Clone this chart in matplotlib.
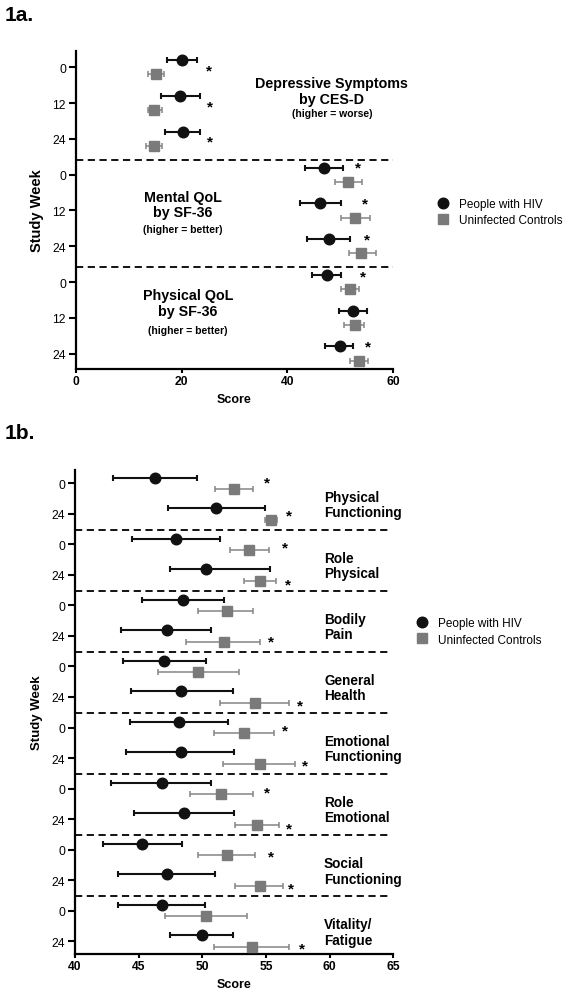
import matplotlib
matplotlib.use('Agg')
import matplotlib.pyplot as plt
import numpy as np
from matplotlib.lines import Line2D

plt.rcParams['font.family'] = ['Liberation Sans', 'DejaVu Sans']

# ---- panel 1a data ----
weeks_a = ['0', '12', '24']
groups_a = ['Depressive Symptoms\nby CES-D', 'Mental QoL\nby SF-36', 'Physical QoL\nby SF-36']
notes_a = ['(higher = worse)', '(higher = better)', '(higher = better)']
hiv_a = [20.1, 19.8, 20.2, 46.9, 46.1, 47.8, 47.4, 52.5, 49.9]
hiv_a_lo = [17.2, 16.1, 16.9, 43.3, 42.3, 43.8, 44.7, 49.8, 47.2]
hiv_a_hi = [23.0, 23.4, 23.5, 50.6, 50.2, 51.8, 50.1, 55.1, 52.5]
ctl_a = [15.2, 14.8, 14.8, 51.5, 52.8, 54.0, 51.8, 52.8, 53.6]
ctl_a_lo = [13.7, 13.6, 13.3, 49.0, 50.1, 51.6, 50.1, 50.8, 51.8]
ctl_a_hi = [16.7, 16.3, 16.3, 54.2, 55.7, 56.7, 53.5, 54.5, 55.3]
star_a_row = [0, 1, 2, 3, 4, 5, 6, 8]
star_a_x = [25.2, 25.4, 25.3, 53.3, 54.6, 55.1, 54.2, 55.3]
star_a_dy = [0.08, 0.08, 0.08, -0.19, -0.2, -0.18, -0.16, -0.2]

# ---- panel 1b data ----
weeks_b = ['0', '24']
groups_b = ['Physical\nFunctioning', 'Role\nPhysical', 'Bodily\nPain', 'General\nHealth',
            'Emotional\nFunctioning', 'Role\nEmotional', 'Social\nFunctioning', 'Vitality/\nFatigue']
hiv_b = [46.3, 51.1, 47.9, 50.3, 48.5, 47.2, 47.0, 48.3,
         48.2, 48.3, 46.8, 48.6, 45.3, 47.2, 46.8, 50.0]
hiv_b_lo = [43.0, 47.3, 44.5, 47.5, 45.3, 43.6, 43.8, 44.4,
            44.3, 44.0, 42.8, 44.6, 42.2, 43.4, 43.4, 47.5]
hiv_b_hi = [49.6, 54.9, 51.4, 55.3, 51.7, 50.7, 50.3, 52.4,
            52.0, 52.5, 50.7, 52.5, 48.4, 51.0, 50.2, 52.4]
ctl_b = [52.5, 55.4, 53.7, 54.5, 51.9, 51.7, 49.7, 54.1,
         53.3, 54.5, 51.5, 54.3, 51.9, 54.5, 50.3, 53.9]
ctl_b_lo = [51.0, 54.9, 52.2, 53.3, 49.7, 48.7, 46.5, 51.4,
            50.9, 51.6, 49.0, 52.6, 49.7, 52.6, 47.1, 50.9]
ctl_b_hi = [54.0, 55.9, 55.2, 55.8, 54.0, 54.5, 52.9, 56.8,
            55.6, 57.3, 54.0, 56.0, 54.1, 56.3, 53.5, 56.8]
star_b_row = [0, 1, 2, 3, 5, 7, 8, 9, 10, 11, 12, 13, 15]
star_b_x = [55.1, 56.8, 56.5, 56.7, 55.4, 57.7, 56.5, 58.1, 55.1, 56.8, 55.4, 57.0, 57.85]
star_b_dy = [-0.03, 0.06, 0.11, 0.30, 0.17, 0.28, 0.10, 0.23, 0.14, 0.30, 0.23, 0.26, 0.23]

BLACK = '#111111'
GRAY = '#7a7a7a'
GRAY_ERR = '#858585'


def draw_points(ax, hiv, lo, hi, ctl, clo, chi, off):
    rows = np.arange(len(hiv))
    hiv = np.array(hiv); ctl = np.array(ctl)
    ax.errorbar(ctl, rows + off, xerr=[ctl - np.array(clo), np.array(chi) - ctl],
                fmt='s', color=GRAY, ecolor=GRAY_ERR, ms=7.3, elinewidth=1.1,
                capsize=2.5, capthick=1.1, zorder=3)
    ax.errorbar(hiv, rows - off, xerr=[hiv - np.array(lo), np.array(hi) - hiv],
                fmt='o', color=BLACK, ecolor=BLACK, ms=7.6, elinewidth=1.5,
                capsize=2.5, capthick=1.5, zorder=4)


def style_axes(ax, labels, ylab_size):
    for s in ['top', 'right']:
        ax.spines[s].set_visible(False)
    for s in ['left', 'bottom']:
        ax.spines[s].set_linewidth(1.6)
    ax.set_yticks(range(len(labels)))
    ax.set_yticklabels(labels, fontsize=8.7)
    ax.tick_params(axis='y', length=5, width=1.5, pad=2)
    ax.tick_params(axis='x', length=3, width=1.5, pad=1.5)
    for t in ax.get_xticklabels():
        t.set_fontweight('bold')
        t.set_fontsize(8.7)
    ax.set_xlabel('Score', fontsize=9, fontweight='bold', labelpad=4)
    ax.set_ylabel('Study Week', fontsize=ylab_size, fontweight='bold', labelpad=6)


def legend(ax, anchor):
    handles = [Line2D([], [], marker='o', ls='', color=BLACK, ms=7.6),
               Line2D([], [], marker='s', ls='', color=GRAY, ms=7.3)]
    ax.legend(handles, ['People with HIV', 'Uninfected Controls'], loc='center left',
              bbox_to_anchor=anchor, frameon=False, fontsize=8.5, handlelength=1.0,
              handletextpad=0.85, borderpad=0, borderaxespad=0, labelspacing=0.35)


fig = plt.figure(figsize=(5.69, 9.95), dpi=100)

# ---------- 1a ----------
ax1 = fig.add_axes([0.133, 0.6281, 0.558, 0.3196])
draw_points(ax1, hiv_a, hiv_a_lo, hiv_a_hi, ctl_a, ctl_a_lo, ctl_a_hi, 0.2)
for r, x, dy in zip(star_a_row, star_a_x, star_a_dy):
    ax1.text(x, r + dy, '*', fontsize=11, fontweight='bold', ha='center', va='center')
for y in [2.59, 5.57]:
    ax1.axhline(y, color='black', lw=1.3, ls=(0, (4, 2.5)))
ax1.set_xlim(0, 60)
ax1.set_xticks([0, 20, 40, 60])
ax1.set_ylim(8.43, -0.455)
style_axes(ax1, weeks_a * 3, 10.5)
label_pos_a = [(48.4, 0.66, 1.28), (20.3, 3.83, 4.52), (21.2, 6.58, 7.34)]
for (x, y, yn), g, n in zip(label_pos_a, groups_a, notes_a):
    ax1.text(x, y, g, fontsize=10.3, fontweight='bold', ha='center', va='center', linespacing=1.15)
    ax1.text(x, yn, n, fontsize=7.5, fontweight='bold', ha='center', va='center')
legend(ax1, (1.138, 0.494))
fig.text(0.008, 0.994, '1a.', fontsize=15, fontweight='bold', va='top')

# ---------- 1b ----------
ax2 = fig.add_axes([0.1318, 0.0402, 0.5594, 0.4867])
draw_points(ax2, hiv_b, hiv_b_lo, hiv_b_hi, ctl_b, ctl_b_lo, ctl_b_hi, 0.19)
for r, x, dy in zip(star_b_row, star_b_x, star_b_dy):
    ax2.text(x, r + dy, '*', fontsize=11, fontweight='bold', ha='center', va='center')
for k in range(7):
    ax2.axhline(1.53 + 2 * k, color='black', lw=1.3, ls=(0, (4, 2.5)), xmax=0.99)
ax2.set_xlim(40, 65)
ax2.set_xticks(range(40, 66, 5))
ax2.set_ylim(15.42, -0.445)
style_axes(ax2, weeks_b * 8, 9.5)
for k, g in enumerate(groups_b):
    ax2.text(59.56, 2 * k + 0.7, g, fontsize=9.8, fontweight='bold', ha='left', va='center',
             linespacing=1.1)
legend(ax2, (1.0726, 0.666))
fig.text(0.008, 0.574, '1b.', fontsize=15, fontweight='bold', va='top')

fig.savefig('out.png', dpi=100)
